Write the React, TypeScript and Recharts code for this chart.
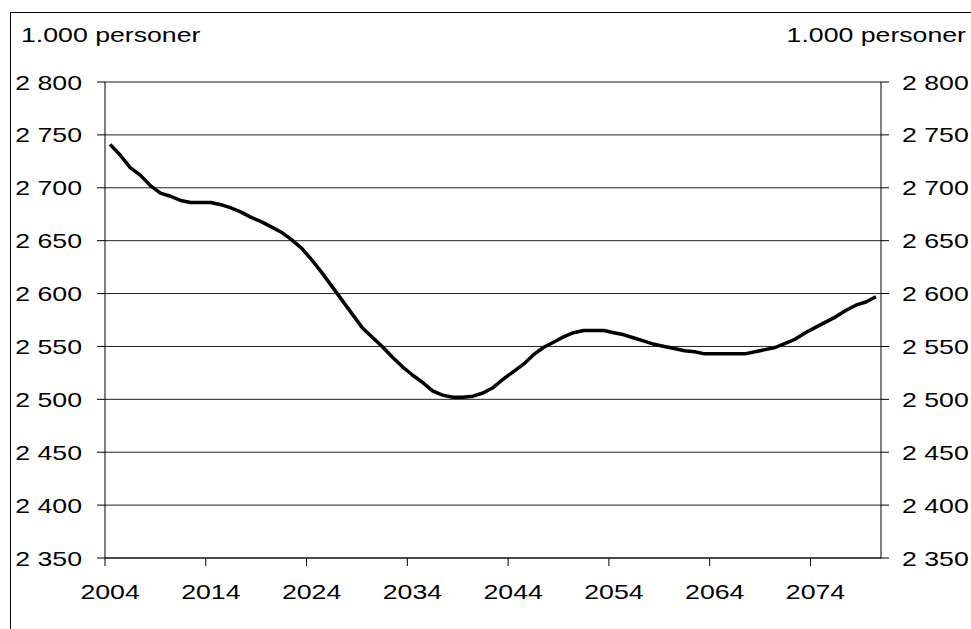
import { LineChart, Line, XAxis, YAxis, CartesianGrid } from "recharts"

const FIRST_YEAR = 2004

// befolkning, 1.000 personer, 2004-2080
const population = [
  2741, 2731, 2719, 2712, 2702, 2695, 2692, 2688, 2686, 2686,
  2686, 2684, 2681, 2677, 2672, 2668, 2663, 2658, 2651, 2643,
  2632, 2620, 2607, 2594, 2581, 2568, 2559, 2550, 2540, 2531,
  2523, 2516, 2508, 2504, 2502, 2502, 2503, 2506, 2511, 2519,
  2526, 2533, 2542, 2549, 2554, 2559, 2563, 2565, 2565, 2565,
  2563, 2561, 2558, 2555, 2552, 2550, 2548, 2546, 2545, 2543,
  2543, 2543, 2543, 2543, 2545, 2547, 2549, 2553, 2557, 2563,
  2568, 2573, 2578, 2584, 2589, 2592, 2597,
]

const years = population.map((_, i) => FIRST_YEAR + i)

const yTicks = [2350, 2400, 2450, 2500, 2550, 2600, 2650, 2700, 2750, 2800]
const xTickLabels = [2004, 2014, 2024, 2034, 2044, 2054, 2064, 2074]
const unitLabel = "1.000 personer"

const data = years.map((year, i) => ({ year, value: population[i] }))

const W = 971
const H = 629
const FONT = "'Liberation Sans', Arial, sans-serif"
const FONT_SIZE = 21
const STRETCH = 1.27

const PLOT_LEFT = 105
const PLOT_RIGHT = 881
const PLOT_TOP = 82
const PLOT_BOTTOM = 558
const X_AXIS_H = 40
const CAT_W = (PLOT_RIGHT - PLOT_LEFT) / years.length

const formatNumber = (v: number) => {
  const s = String(Math.round(v))
  return s.replace(/\B(?=(\d{3})+(?!\d))/g, " ")
}

const LeftTick = (props: any) => {
  const { x, y, payload } = props
  return (
    <g transform={`translate(${x},${y}) scale(${STRETCH},1)`}>
      <text x={0} y={0} dy="0.36em" textAnchor="end" fontSize={FONT_SIZE} fontFamily={FONT} fill="#000">
        {formatNumber(payload.value)}
      </text>
    </g>
  )
}

const RightTick = (props: any) => {
  const { x, y, payload } = props
  return (
    <g transform={`translate(${x},${y}) scale(${STRETCH},1)`}>
      <text x={0} y={0} dy="0.36em" textAnchor="start" fontSize={FONT_SIZE} fontFamily={FONT} fill="#000">
        {formatNumber(payload.value)}
      </text>
    </g>
  )
}

// ticks sit on category boundaries, labels on the category centre
const YearTick = (props: any) => {
  const { x, y, payload } = props
  return (
    <g transform={`translate(${x + CAT_W / 2},${y}) scale(${STRETCH},1)`}>
      <text x={0} y={0} dy="0.71em" textAnchor="middle" fontSize={FONT_SIZE} fontFamily={FONT} fill="#000">
        {payload.value + 0.5}
      </text>
    </g>
  )
}

export default function App() {
  return (
    <div style={{ position: "absolute", left: 0, top: 0, width: W, height: H, background: "#fff" }}>
      <svg width={W} height={H} style={{ position: "absolute", left: 0, top: 0 }}>
        <rect x={10.5} y={12.5} width={W + 20} height={H + 20} fill="none" stroke="#000" strokeWidth={1} />
        <g transform={`translate(21,41.5) scale(${STRETCH},1)`}>
          <text x={0} y={0} fontSize={FONT_SIZE} fontFamily={FONT} fill="#000">{unitLabel}</text>
        </g>
        <g transform={`translate(966,41.5) scale(${STRETCH},1)`}>
          <text x={0} y={0} textAnchor="end" fontSize={FONT_SIZE} fontFamily={FONT} fill="#000">{unitLabel}</text>
        </g>
      </svg>
      <div style={{ position: "absolute", left: 0, top: 0 }}>
        <LineChart
          width={W}
          height={H}
          data={data}
          margin={{ top: PLOT_TOP, right: 0, left: 0, bottom: H - PLOT_BOTTOM - X_AXIS_H }}
        >
          <CartesianGrid yAxisId="left" vertical={false} stroke="#222" strokeWidth={1} />
          <XAxis
            dataKey="year"
            type="number"
            domain={[FIRST_YEAR - 0.5, FIRST_YEAR + years.length - 0.5]}
            allowDataOverflow
            ticks={xTickLabels.map((y) => y - 0.5)}
            interval={0}
            height={X_AXIS_H}
            axisLine={{ stroke: "#000" }}
            tickLine={{ stroke: "#000" }}
            tickSize={8}
            tickMargin={18}
            tick={<YearTick />}
          />
          <YAxis
            yAxisId="left"
            orientation="left"
            type="number"
            width={PLOT_LEFT}
            domain={[2350, 2800]}
            allowDataOverflow
            ticks={yTicks}
            interval={0}
            axisLine={{ stroke: "#000" }}
            tickLine={{ stroke: "#000" }}
            tickSize={8}
            tickMargin={15}
            tick={<LeftTick />}
          />
          <YAxis
            yAxisId="right"
            orientation="right"
            type="number"
            width={W - PLOT_RIGHT}
            domain={[2350, 2800]}
            allowDataOverflow
            ticks={yTicks}
            interval={0}
            axisLine={{ stroke: "#000" }}
            tickLine={{ stroke: "#000" }}
            tickSize={8}
            tickMargin={13}
            tick={<RightTick />}
          />
          <Line
            yAxisId="left"
            type="linear"
            dataKey="value"
            stroke="#000"
            strokeWidth={3.5}
            strokeLinejoin="round"
            dot={false}
            activeDot={false}
            isAnimationActive={false}
          />
        </LineChart>
      </div>
    </div>
  )
}
